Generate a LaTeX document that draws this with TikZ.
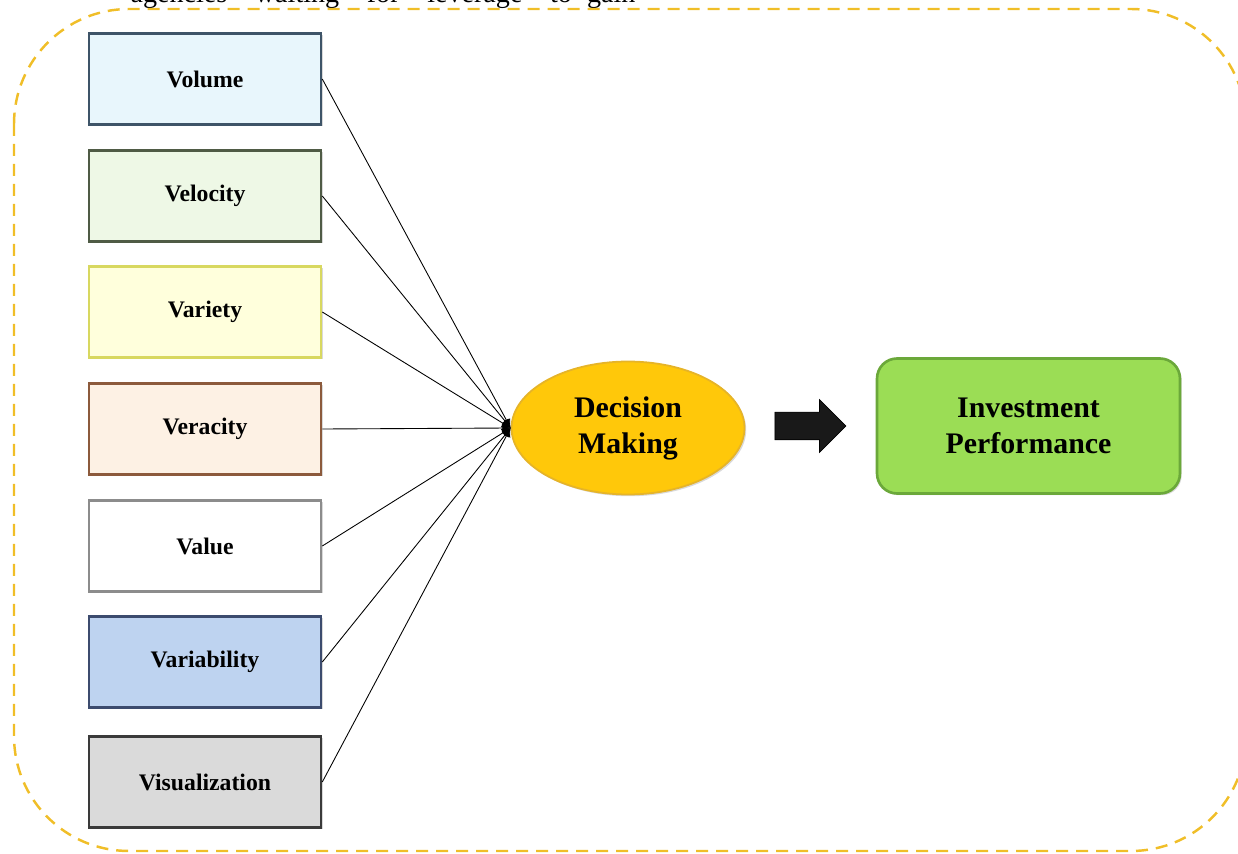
\documentclass[tikz,border=0pt]{standalone}
\usepackage{fontspec}
\setmainfont{Liberation Serif}
\usetikzlibrary{arrows.meta,positioning,shapes.geometric,shapes.arrows,shadows}

\definecolor{frameyellow}{RGB}{240,190,40}
\definecolor{volfill}{RGB}{232,246,252}
\definecolor{volline}{RGB}{62,84,104}
\definecolor{velfill}{RGB}{238,248,230}
\definecolor{velline}{RGB}{79,91,69}
\definecolor{varfill}{RGB}{255,255,220}
\definecolor{varline}{RGB}{216,216,96}
\definecolor{verfill}{RGB}{253,241,228}
\definecolor{verline}{RGB}{140,90,60}
\definecolor{valline}{RGB}{140,140,140}
\definecolor{vabfill}{RGB}{190,211,240}
\definecolor{vabline}{RGB}{60,75,110}
\definecolor{visfill}{RGB}{218,218,218}
\definecolor{visline}{RGB}{58,58,58}
\definecolor{dmfill}{RGB}{255,200,10}
\definecolor{dmline}{RGB}{230,180,40}
\definecolor{perffill}{RGB}{155,221,85}
\definecolor{perfline}{RGB}{107,168,58}

\begin{document}
\begin{tikzpicture}[x=0.02cm,y=-0.02cm,
  vbox/.style={draw, line width=1.5pt, minimum width=4.64cm, minimum height=1.82cm,
    drop shadow={shadow xshift=1pt, shadow yshift=-1pt, opacity=0.3},
    font=\bfseries\fontsize{13.5}{15}\selectfont},
  bigtext/.style={align=center, font=\bfseries\fontsize{17}{20.5}\selectfont},
  link/.style={line width=0.5pt, -{Latex[length=5pt,width=5pt]}},
  frame/.style={frameyellow, line width=1.4pt, dash pattern=on 0.24cm off 0.16cm, rounded corners=2.3cm}]
  \useasboundingbox (0,0) rectangle (1238,854);
  \clip (0,0) rectangle (1238,854);

  % cut-off line of text above the figure
  \node[anchor=base, font=\fontsize{16}{18}\selectfont] (note) at (383,3)
    {\makebox[10.1cm][s]{agencies “waiting” for “leverage” to gain}};

  % dashed frame
  \draw[frame] (14,9) rectangle (1246,851);

  % the seven V's
  \node[vbox, fill=volfill, draw=volline] (volume) at (205,79) {Volume};
  \node[vbox, fill=velfill, draw=velline] (velocity) at (205,196) {Velocity};
  \node[vbox, fill=varfill, draw=varline] (variety) at (205,312) {Variety};
  \node[vbox, fill=verfill, draw=verline] (veracity) at (205,429) {Veracity};
  \node[vbox, fill=white, draw=valline] (value) at (205,546) {Value};
  \node[vbox, fill=vabfill, draw=vabline] (variability) at (205,662) {Variability};
  \node[vbox, fill=visfill, draw=visline] (visualization) at (205,782) {Visualization};

  % decision making and performance
  \node[ellipse, bigtext, fill=dmfill, draw=dmline, line width=1pt,
    minimum width=4.66cm, minimum height=2.66cm,
    drop shadow={shadow xshift=1pt, shadow yshift=-1pt, opacity=0.3}] (dm) at (628,428) {Decision\\Making};
  \node[single arrow, fill=black!90, draw=black, inner xsep=0pt, inner ysep=0.27cm,
    single arrow head extend=0.25cm, minimum height=1.42cm] (arr) at (803.5,426) {};
  \node[bigtext, rounded corners=0.4cm, fill=perffill, draw=perfline, line width=1.5pt,
    minimum width=6.06cm, minimum height=2.7cm,
    drop shadow={shadow xshift=1pt, shadow yshift=-1pt, opacity=0.3}] (perf) at (1028.5,426) {Investment\\Performance};

  \foreach \v in {volume,velocity,variety,veracity,value,variability,visualization}
    \draw[link] (\v.east) -- (dm.west);
\end{tikzpicture}
\end{document}
